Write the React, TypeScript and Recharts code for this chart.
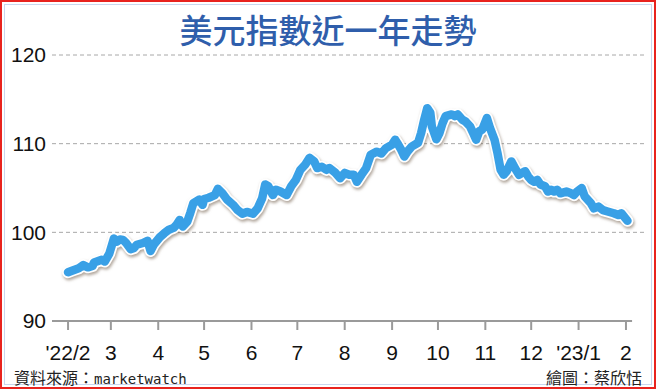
import React from 'react';
import { LineChart, Line, XAxis, YAxis, CartesianGrid, ReferenceLine } from 'recharts';

const title = '美元指數近一年走勢';
const sourceLabel = '資料來源：';
const sourceName = 'marketwatch';
const creditText = '繪圖：蔡欣恬';

const monthTickDates = [
  '2022-02-01', '2022-03-01', '2022-04-01', '2022-05-01', '2022-06-01', '2022-07-01', '2022-08-01',
  '2022-09-01', '2022-10-01', '2022-11-01', '2022-12-01', '2023-01-01', '2023-02-01',
];
const monthTickLabels = ["'22/2", '3', '4', '5', '6', '7', '8', '9', '10', '11', '12', "'23/1", '2'];
const yTicks = [90, 100, 110, 120];
const gridValues = [100, 110, 120];

const dates = [
  '2022-02-01', '2022-02-04', '2022-02-08', '2022-02-11', '2022-02-14', '2022-02-17', '2022-02-18', '2022-02-23', '2022-02-25', '2022-02-28',
  '2022-03-03', '2022-03-05', '2022-03-07', '2022-03-09', '2022-03-11', '2022-03-14', '2022-03-16', '2022-03-18', '2022-03-22', '2022-03-25', '2022-03-27', '2022-03-29',
  '2022-04-02', '2022-04-05', '2022-04-08', '2022-04-11', '2022-04-13', '2022-04-15', '2022-04-17', '2022-04-20', '2022-04-22', '2022-04-24', '2022-04-28', '2022-04-30',
  '2022-05-01', '2022-05-04', '2022-05-08', '2022-05-10', '2022-05-13', '2022-05-16', '2022-05-20', '2022-05-23', '2022-05-26', '2022-05-29',
  '2022-06-02', '2022-06-05', '2022-06-08', '2022-06-10', '2022-06-12', '2022-06-15', '2022-06-17', '2022-06-20', '2022-06-24', '2022-06-27', '2022-06-30',
  '2022-07-03', '2022-07-06', '2022-07-09', '2022-07-12', '2022-07-14', '2022-07-17', '2022-07-20', '2022-07-22', '2022-07-26', '2022-07-29',
  '2022-08-01', '2022-08-04', '2022-08-07', '2022-08-09', '2022-08-12', '2022-08-15', '2022-08-18', '2022-08-22', '2022-08-25', '2022-08-28',
  '2022-09-01', '2022-09-03', '2022-09-05', '2022-09-07', '2022-09-09', '2022-09-11', '2022-09-14', '2022-09-18', '2022-09-20', '2022-09-22', '2022-09-24', '2022-09-26', '2022-09-27', '2022-09-30',
  '2022-10-02', '2022-10-04', '2022-10-06', '2022-10-10', '2022-10-12', '2022-10-14', '2022-10-17', '2022-10-19', '2022-10-22', '2022-10-24', '2022-10-26', '2022-10-28', '2022-10-30',
  '2022-11-02', '2022-11-04', '2022-11-07', '2022-11-09', '2022-11-11', '2022-11-13', '2022-11-15', '2022-11-18', '2022-11-21', '2022-11-23', '2022-11-27', '2022-11-29',
  '2022-12-01', '2022-12-03', '2022-12-05', '2022-12-07', '2022-12-10', '2022-12-12', '2022-12-14', '2022-12-16', '2022-12-18', '2022-12-20', '2022-12-24', '2022-12-27', '2022-12-29', '2022-12-31',
  '2023-01-03', '2023-01-05', '2023-01-09', '2023-01-11', '2023-01-14', '2023-01-17', '2023-01-20', '2023-01-24', '2023-01-27', '2023-01-29', '2023-02-02',
];
const values = [
  95.5, 95.7, 95.95, 96.3, 96.05, 96.2, 96.6, 96.9, 96.7, 97.6,
  99.3, 98.95, 99.2, 99.15, 98.8, 98.1, 98.2, 98.6, 98.8, 99.05, 97.9, 98.6,
  99.45, 99.9, 100.3, 100.5, 100.85, 101.4, 100.65, 101.2, 102.2, 103.3, 103.7, 103.1,
  103.75, 103.9, 104.2, 104.9, 104.4, 103.7, 103.1, 102.5, 102.1, 102.3,
  102.1, 102.7, 103.85, 105.4, 105.2, 104.2, 104.8, 104.6, 104.2, 105.2, 105.9,
  107.05, 107.6, 108.4, 108.0, 107.25, 107.4, 107.05, 107.25, 106.7, 106.1,
  106.7, 106.5, 106.5, 105.7, 106.5, 107.25, 108.75, 109.1, 108.9, 109.5,
  109.9, 110.45, 109.9, 109.3, 108.55, 109.1, 109.7, 110.1, 111.2, 112.7, 114.0, 113.5, 111.95, 110.5,
  111.2, 112.3, 113.1, 113.3, 113.1, 113.3, 112.7, 112.5, 111.95, 111.2, 110.45, 111.4, 111.6,
  112.9, 111.8, 110.45, 108.9, 107.05, 106.5, 106.9, 108.0, 107.05, 106.5, 106.9, 106.3,
  105.9, 105.7, 105.9, 105.4, 105.2, 104.6, 104.8, 104.6, 104.8, 104.4, 104.6, 104.4, 104.2, 104.6,
  105.0, 104.05, 103.3, 102.7, 102.9, 102.5, 102.35, 102.15, 101.95, 102.15, 101.3,
];

const DAY = 86400000;
const toMs = (s: string) => Date.parse(s + 'T00:00:00Z');
const data = dates.map((d, i) => ({ t: toMs(d), v: values[i] }));
const tickTs = monthTickDates.map(toMs);
const labelByTs = new Map<number, string>(tickTs.map((t, i) => [t, monthTickLabels[i]]));
const xDomain = [tickTs[0] - 10.5 * DAY, tickTs[tickTs.length - 1] + 11.8 * DAY];
const axisEnd = tickTs[tickTs.length - 1] + 4 * DAY;

const axisFont = '"Liberation Sans Narrow", "Liberation Sans", Arial, sans-serif';

export default function App() {
  return (
    <div style={{ position: 'absolute', left: 0, top: 0, width: 656, height: 389, background: '#fff', overflow: 'hidden' }}>
      <style>{`.dxy-outline path { filter: drop-shadow(1px 2px 1.5px rgba(110, 90, 70, 0.55)); }`}</style>
      <div style={{ position: 'absolute', left: 0, top: 0, width: 656, height: 389, boxSizing: 'border-box', border: '2.5px solid #e8231e' }} />
      <div style={{ position: 'absolute', left: 4, top: 4, width: 648, height: 381, boxSizing: 'border-box', border: '1px solid #c9d7ee' }} />
      <div style={{ position: 'absolute', left: 0, top: 9, width: 656, textAlign: 'center', fontFamily: '"Noto Sans CJK TC", sans-serif', fontSize: 33, fontWeight: 500, color: '#2f5eab', lineHeight: '40px' }}>
        {title}
      </div>
      <div style={{ position: 'absolute', left: 0, top: 0 }}>
        <LineChart width={656} height={389} data={data} margin={{ top: 55, right: 12, left: 0, bottom: 28 }}>
          <CartesianGrid vertical={false} horizontalValues={gridValues} stroke="#a8a8a8" strokeDasharray="4 3" />
          <XAxis
            dataKey="t"
            type="number"
            domain={xDomain}
            ticks={tickTs}
            allowDataOverflow
            height={40}
            axisLine={false}
            tickLine={{ stroke: '#9a9a9a', strokeWidth: 2 }}
            tickSize={9}
            tickMargin={15}
            tick={{ fontFamily: axisFont, fontSize: 21, fill: '#111' }}
            tickFormatter={(t: number) => labelByTs.get(t) ?? ''}
            interval={0}
          />
          <YAxis
            type="number"
            domain={[90, 120]}
            ticks={yTicks}
            width={52}
            axisLine={false}
            tickLine={false}
            tickSize={4}
            tickMargin={2}
            tick={{ fontFamily: axisFont, fontSize: 21, fill: '#111' }}
            interval={0}
          />
          <ReferenceLine
            segment={[{ x: xDomain[0], y: 90 }, { x: axisEnd, y: 90 }]}
            stroke="#9a9a9a"
            strokeWidth={2}
            ifOverflow="visible"
          />
          <Line
            className="dxy-outline"
            dataKey="v"
            type="linear"
            stroke="#ffffff"
            strokeWidth={12}
            strokeLinejoin="round"
            strokeLinecap="round"
            dot={false}
            activeDot={false}
            isAnimationActive={false}
          />
          <Line
            dataKey="v"
            type="linear"
            stroke="#39a0e6"
            strokeWidth={8.5}
            strokeLinejoin="round"
            strokeLinecap="round"
            dot={false}
            activeDot={false}
            isAnimationActive={false}
          />
        </LineChart>
      </div>
      <div style={{ position: 'absolute', left: 14, top: 367, fontSize: 16, color: '#222', lineHeight: '20px', whiteSpace: 'nowrap' }}>
        <span style={{ fontFamily: '"Noto Sans CJK TC", sans-serif' }}>{sourceLabel}</span>
        <span style={{ fontFamily: '"DejaVu Sans Mono", monospace', fontSize: 14 }}>{sourceName}</span>
      </div>
      <div style={{ position: 'absolute', right: 14, top: 367, fontSize: 16, color: '#222', lineHeight: '20px', whiteSpace: 'nowrap', fontFamily: '"Noto Sans CJK TC", sans-serif' }}>
        {creditText}
      </div>
    </div>
  );
}
